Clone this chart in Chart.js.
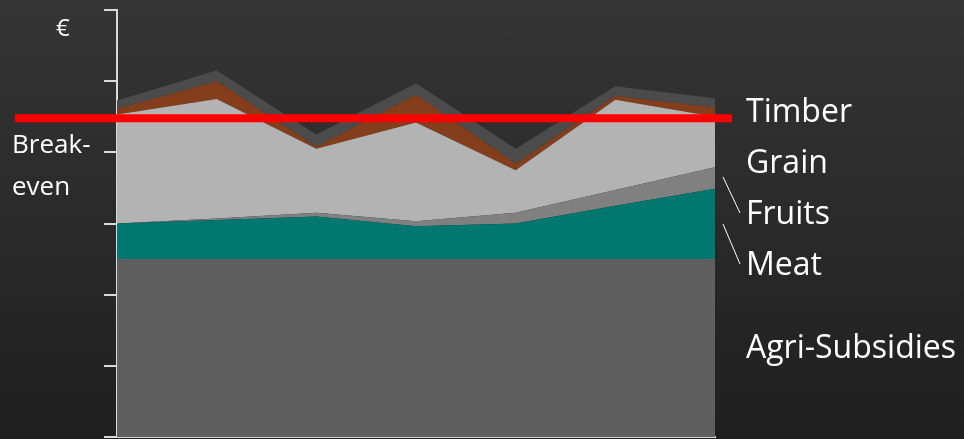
<!DOCTYPE html>
<html>
<head>
<meta charset="utf-8">
<script src="https://cdn.jsdelivr.net/npm/chart.js@4"></script>
<style>
  html, body { margin: 0; padding: 0; }
  body { width: 964px; height: 439px; background: linear-gradient(#353535, #1f1f1f); overflow: hidden; }
  #wrap { position: relative; width: 964px; height: 439px; }
</style>
</head>
<body>
<div id="wrap"><canvas id="chart" width="964" height="439"></canvas></div>
<script>
// --- data (y in arbitrary € units, 0..6) ---
const periods = ['', '', '', '', '', '', ''];
const yTicks = [0, 1, 2, 3, 4, 5, 6];
const agriSubsidies = [2.5, 2.5, 2.5, 2.5, 2.5, 2.5, 2.5];
const meat = [0.50, 0.55, 0.60, 0.46, 0.50, 0.75, 0.99];
const fruits = [0.00, 0.02, 0.05, 0.07, 0.15, 0.22, 0.30];
const grain = [1.53, 1.68, 0.90, 1.39, 0.60, 1.27, 0.71];
const timber = [0.08, 0.25, 0.03, 0.39, 0.09, 0.05, 0.13];
const other = [0.12, 0.15, 0.17, 0.16, 0.21, 0.14, 0.13];
const breakEven = 4.48;

const seriesLabels = ['Agri-Subsidies', 'Meat', 'Fruits', 'Grain', 'Timber', ''];
const seriesColors = ['#5f5f5f', '#00776f', '#808080', '#b3b3b3', '#843e1c', '#4b4b4b'];
const seriesData = [agriSubsidies, meat, fruits, grain, timber, other];

const datasets = seriesData.map((d, i) => ({
    label: seriesLabels[i],
    data: d,
    backgroundColor: seriesColors[i],
    borderWidth: 0,
    pointRadius: 0,
    tension: 0,
    fill: i === 0 ? 'origin' : '-1'
}));

// red break-even line + side texts
const decorPlugin = {
    id: 'decor',
    afterDatasetsDraw(chart) {
        const { ctx, chartArea, scales } = chart;
        const y = scales.y.getPixelForValue(breakEven);
        ctx.save();
        ctx.strokeStyle = '#ff0000';
        ctx.lineWidth = 8;
        ctx.beginPath();
        ctx.moveTo(15, y);
        ctx.lineTo(chartArea.right + 17, y);
        ctx.stroke();

        ctx.fillStyle = '#ffffff';
        ctx.textBaseline = 'alphabetic';
        ctx.font = '24px "Open Sans"';
        ctx.fillText('€', 56, 36);
        ctx.font = '26px "Open Sans"';
        ctx.fillText('Break-', 12, 153);
        ctx.fillText('even', 12, 195);

        const lx = chartArea.right + 31;
        ctx.font = '32px "Open Sans"';
        ctx.fillText('Timber', lx, 122);
        ctx.fillText('Grain', lx, 173);
        ctx.fillText('Fruits', lx, 224);
        ctx.fillText('Meat', lx, 275);
        ctx.fillText('Agri-Subsidies', lx, 358);

        // leader lines
        ctx.strokeStyle = '#ffffff';
        ctx.lineWidth = 1;
        ctx.beginPath();
        ctx.moveTo(chartArea.right + 8, 177);
        ctx.lineTo(chartArea.right + 25, 213);
        ctx.moveTo(chartArea.right + 8, 224);
        ctx.lineTo(chartArea.right + 25, 264);
        ctx.stroke();
        ctx.restore();
    }
};

new Chart(document.getElementById('chart'), {
    type: 'line',
    data: { labels: periods, datasets },
    options: {
        responsive: false,
        animation: false,
        layout: { padding: { left: 103, right: 249, top: 10, bottom: 0 } },
        plugins: { legend: { display: false }, tooltip: { enabled: false } },
        scales: {
            x: {
                offset: false,
                ticks: { display: false },
                grid: { display: false },
                border: { color: '#d9d9d9', width: 2 },
                afterFit: s => { s.height = 2; }
            },
            y: {
                stacked: true,
                min: yTicks[0],
                max: yTicks[yTicks.length - 1],
                afterBuildTicks: s => { s.ticks = yTicks.map(v => ({ value: v })); },
                ticks: { display: false },
                grid: { drawOnChartArea: false, drawTicks: true, tickLength: 13, color: '#d9d9d9', lineWidth: 2 },
                border: { color: '#d9d9d9', width: 2 },
                afterFit: s => { s.width = 14; }
            }
        }
    },
    plugins: [decorPlugin]
});
</script>
</body>
</html>
